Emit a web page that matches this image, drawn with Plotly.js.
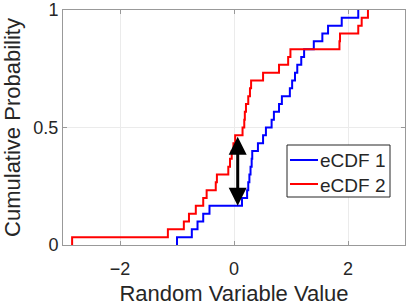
<!DOCTYPE html>
<html>
<head>
<meta charset="utf-8">
<script src="https://cdn.plot.ly/plotly-3.0.1.min.js"></script>
<style>html,body{margin:0;padding:0;background:#fff;}#chart{width:408px;height:306px;}</style>
</head>
<body>
<div id="chart"></div>
<script>
// Sorted sample values (jump locations)
const sample1 = [-1.00, -0.74, -0.64, -0.54, -0.43, 0.14, 0.23, 0.25, 0.27, 0.29,
                 0.31, 0.32, 0.42, 0.51, 0.56, 0.66, 0.70, 0.79, 0.84, 0.98,
                 1.02, 1.07, 1.11, 1.18, 1.23, 1.40, 1.55, 1.65, 1.89, 2.18];
const sample2 = [-2.84, -1.16, -0.88, -0.79, -0.67, -0.54, -0.48, -0.32, -0.30, -0.10,
                 -0.07, -0.04, -0.01, 0.02, 0.15, 0.18, 0.19, 0.21, 0.25, 0.28,
                 0.30, 0.51, 0.79, 0.95, 0.99, 1.85, 1.86, 2.18, 2.24, 2.35];
const seriesNames = ['eCDF 1', 'eCDF 2'];
const seriesColors = ['#0000ff', '#ff0000'];
const xTicks = [-2, 0, 2];
const yTicks = [0, 0.5, 1];
const yTickText = ['0', '0.5', '1'];
// KS distance arrow: location and the two probability levels
const ksX = 0.065;
const ksLow = 5 / 30;
const ksHigh = 14 / 30;

function ecdf(s) {
  const n = s.length;
  const x = [s[0]], y = [0];
  s.forEach((v, i) => { x.push(v); y.push((i + 1) / n); });
  return {x, y};
}
const e1 = ecdf(sample1), e2 = ecdf(sample2);

const W = 408, H = 306, M = {l: 63, r: 3, t: 10, b: 61};
const pw = W - M.l - M.r, ph = H - M.t - M.b;
const px = v => (v - M.l) / pw;          // pixel -> paper x
const py = v => (H - M.b - v) / ph;      // pixel -> paper y

const font = 'Liberation Sans, Arial, Helvetica, sans-serif';
const traces = [
  {x: e1.x, y: e1.y, name: seriesNames[0], mode: 'lines', line: {shape: 'hv', color: seriesColors[0], width: 2}},
  {x: e2.x, y: e2.y, name: seriesNames[1], mode: 'lines', line: {shape: 'hv', color: seriesColors[1], width: 2}}
];

// legend box (drawn with shapes and text)
const shapes = [
  {type: 'rect', xref: 'paper', yref: 'paper', x0: px(287), x1: px(390), y0: py(197), y1: py(145),
   line: {color: '#262626', width: 1}, fillcolor: '#fff', layer: 'above'}
];
const annotations = [{
  x: ksX, y: ksLow, ax: ksX, ay: ksHigh, xref: 'x', yref: 'y', axref: 'x', ayref: 'y',
  text: '', showarrow: true, arrowhead: 2, startarrowhead: 2, arrowside: 'end+start',
  arrowwidth: 3, arrowsize: 1.2, startarrowsize: 1.2, arrowcolor: '#000'
}];
const rowY = [160, 184];
seriesNames.forEach((nm, i) => {
  shapes.push({type: 'line', xref: 'paper', yref: 'paper', x0: px(290), x1: px(318), y0: py(rowY[i]), y1: py(rowY[i]),
               line: {color: seriesColors[i], width: 2}, layer: 'above'});
  annotations.push({xref: 'paper', yref: 'paper', x: px(318), y: py(rowY[i] + 1), xanchor: 'left', yanchor: 'middle',
                    text: nm, showarrow: false, font: {size: 19, family: font, color: '#262626'}});
});

const layout = {
  width: W, height: H,
  margin: M,
  paper_bgcolor: '#fff', plot_bgcolor: '#fff',
  font: {family: font, color: '#262626', size: 18},
  showlegend: false,
  xaxis: {range: [-3, 3], tickvals: xTicks, ticks: 'inside', ticklen: 4, tickcolor: '#999',
          showline: true, linecolor: '#999', linewidth: 1, mirror: 'ticks',
          showgrid: true, gridcolor: '#ebebeb', zeroline: false,
          tickfont: {size: 18}, ticklabelstandoff: 7, ticklabeloverflow: 'allow',
          title: {text: 'Random Variable Value', font: {size: 22}, standoff: 16}},
  yaxis: {range: [0, 1], tickvals: yTicks, ticktext: yTickText, ticks: 'inside', ticklen: 4, tickcolor: '#999',
          showline: true, linecolor: '#999', linewidth: 1, mirror: 'ticks',
          showgrid: true, gridcolor: '#ebebeb', zeroline: false,
          tickfont: {size: 18}, ticklabeloverflow: 'allow',
          title: {text: 'Cumulative Probability', font: {size: 22}, standoff: 8}},
  shapes: shapes,
  annotations: annotations
};
Plotly.newPlot('chart', traces, layout, {staticPlot: true, displayModeBar: false});
</script>
</body>
</html>
